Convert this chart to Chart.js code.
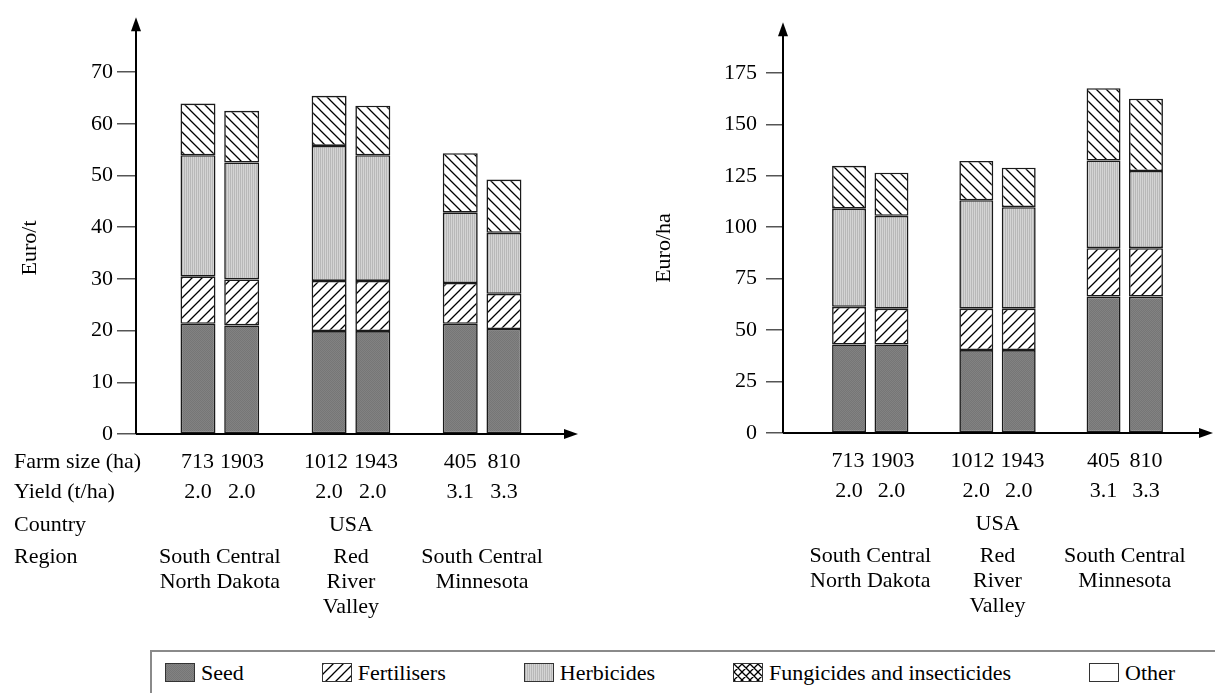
<!DOCTYPE html>
<html>
<head>
<meta charset="utf-8">
<script src="https://cdn.jsdelivr.net/npm/chart.js@4.4.1/dist/chart.umd.min.js"></script>
<style>
  body { margin: 0; background: #fff; width: 1215px; height: 693px; overflow: hidden; position: relative; font-family: "Liberation Serif", "Times New Roman", serif; }
  .wrap { position: absolute; top: 0; height: 648px; }
  #leftWrap { left: 0; width: 607px; }
  #rightWrap { left: 607px; width: 608px; }
  #legend { position: absolute; left: 150px; top: 650px; right: 0; bottom: 0; border-top: 2px solid #8a8a8a; border-left: 2px solid #8a8a8a; display: flex; align-items: center; padding-left: 13px; box-sizing: border-box; white-space: nowrap; }
  .item { display: flex; align-items: center; margin-right: 78px; font-size: 22px; }
  .item canvas { border: 1px solid #333; margin-right: 6px; display: block; }
</style>
</head>
<body>
<div class="wrap" id="leftWrap"><canvas id="perTonChart"></canvas></div>
<div class="wrap" id="rightWrap"><canvas id="perHaChart"></canvas></div>
<div id="legend"></div>

<script>
// Data
const farmSize = ["713", "1903", "1012", "1943", "405", "810"];
const yieldTha = ["2.0", "2.0", "2.0", "2.0", "3.1", "3.3"];
const regionOf = [0, 0, 1, 1, 2, 2];
const regions = [["South Central", "North Dakota"], ["Red", "River", "Valley"], ["South Central", "Minnesota"]];
const country = "USA";
const rowLabels = ["Farm size (ha)", "Yield (t/ha)", "Country", "Region"];
const costNames = ["Seed", "Fertilisers", "Herbicides", "Fungicides and insecticides", "Other"];

// Euro/t
const seedT = [21.3, 21.0, 19.9, 19.9, 21.3, 20.3];
const fertT = [9.2, 8.9, 9.7, 9.7, 7.9, 6.8];
const herbT = [23.4, 22.6, 26.1, 24.3, 13.6, 11.8];
const fungT = [10.0, 10.0, 9.7, 9.6, 11.5, 10.3];
const otherT = [0, 0, 0, 0, 0, 0];
const ticksT = [0, 10, 20, 30, 40, 50, 60, 70];

// Euro/ha
const seedHa = [43.0, 43.0, 40.3, 40.3, 66.3, 66.3];
const fertHa = [18.3, 17.4, 20.1, 20.1, 23.5, 23.5];
const herbHa = [47.7, 45.1, 52.7, 49.3, 42.6, 37.5];
const fungHa = [20.8, 21.0, 19.1, 19.2, 35.1, 35.1];
const otherHa = [0, 0, 0, 0, 0, 0];
const ticksHa = [0, 25, 50, 75, 100, 125, 150, 175];

// bar slots, leaving an empty slot between regions
const xPos = farmSize.map((f, i) => i + regionOf[i] + 1);

const FONT = "'Liberation Serif', 'Times New Roman', serif";
const TEXT_SIZE = 22;
Chart.defaults.font.family = FONT;
Chart.defaults.font.size = TEXT_SIZE;
Chart.defaults.color = "#000";

// Fill patterns
function makePattern(size, draw) {
  const c = document.createElement("canvas");
  c.width = size;
  c.height = size;
  const g = c.getContext("2d");
  draw(g, size);
  return g.createPattern(c, "repeat");
}

const seedFill = makePattern(2, (g) => {
  g.fillStyle = "#828282"; g.fillRect(0, 0, 2, 2);
  g.fillStyle = "#767676"; g.fillRect(0, 0, 1, 1); g.fillRect(1, 1, 1, 1);
});
const herbFill = makePattern(2, (g) => {
  g.fillStyle = "#d4d4d4"; g.fillRect(0, 0, 2, 2);
  g.fillStyle = "#b8b8b8"; g.fillRect(0, 0, 1, 2);
});
function hatch(forward, back, size) {
  return makePattern(size, (g, s) => {
    g.fillStyle = "#fff"; g.fillRect(0, 0, s, s);
    g.strokeStyle = "#000"; g.lineWidth = 1.3;
    g.beginPath();
    if (forward) {
      g.moveTo(-1, s + 1); g.lineTo(s + 1, -1);
      g.moveTo(-1, 1); g.lineTo(1, -1);
      g.moveTo(s - 1, s + 1); g.lineTo(s + 1, s - 1);
    }
    if (back) {
      g.moveTo(-1, -1); g.lineTo(s + 1, s + 1);
      g.moveTo(s - 1, -1); g.lineTo(s + 1, 1);
      g.moveTo(-1, s - 1); g.lineTo(1, s + 1);
    }
    g.stroke();
  });
}
const fertFill = hatch(true, false, 10);
const fungFill = hatch(false, true, 10);
const crossFill = hatch(true, true, 8);

const fills = [seedFill, fertFill, herbFill, fungFill, "#fff"];

function datasets(series) {
  return series.map((vals, k) => ({
    label: costNames[k],
    data: vals.map((v, i) => ({ x: xPos[i], y: v })),
    backgroundColor: fills[k],
    borderColor: "#1a1a1a",
    borderWidth: k === 4 ? 0 : 1.6,
    borderSkipped: false,
    barPercentage: 0.8,
    categoryPercentage: 1.0,
  }));
}

// one row of labels centred under the bars, nudged apart inside a region when they would touch
function drawBarRow(ctx, xs, labels, y) {
  const minGap = 6;
  regions.forEach((r, g) => {
    const idx = labels.map((l, i) => i).filter((i) => regionOf[i] === g);
    const items = idx.map((i) => ({ t: labels[i], c: xs.getPixelForValue(xPos[i]), w: ctx.measureText(labels[i]).width }));
    for (let k = 1; k < items.length; k++) {
      const a = items[k - 1], b = items[k];
      const gap = (b.c - b.w / 2) - (a.c + a.w / 2);
      if (gap < minGap) {
        const push = (minGap - gap) / 2;
        a.c -= push;
        b.c += push;
      }
    }
    items.forEach((it) => ctx.fillText(it.t, it.c, y));
  });
}

// axes with arrows + text table under the bars
const tablePlugin = {
  id: "tablePlugin",
  afterDatasetsDraw(chart, args, opts) {
    const ctx = chart.ctx;
    const a = chart.chartArea;
    const xs = chart.scales.x;
    ctx.save();
    ctx.strokeStyle = "#000";
    ctx.fillStyle = "#000";
    ctx.lineWidth = 2;
    ctx.beginPath();
    ctx.moveTo(a.left, a.bottom);
    ctx.lineTo(a.left, a.top + 8);
    ctx.moveTo(a.left, a.bottom);
    ctx.lineTo(a.right - 8, a.bottom);
    ctx.stroke();
    ctx.beginPath();
    ctx.moveTo(a.left, a.top);
    ctx.lineTo(a.left - 5, a.top + 14);
    ctx.lineTo(a.left + 5, a.top + 14);
    ctx.closePath();
    ctx.fill();
    ctx.beginPath();
    ctx.moveTo(a.right, a.bottom);
    ctx.lineTo(a.right - 14, a.bottom - 5);
    ctx.lineTo(a.right - 14, a.bottom + 5);
    ctx.closePath();
    ctx.fill();

    ctx.font = TEXT_SIZE + "px " + FONT;
    ctx.textBaseline = "middle";

    // y axis title
    ctx.save();
    ctx.translate(opts.titleX, opts.titleY);
    ctx.rotate(-Math.PI / 2);
    ctx.textAlign = "center";
    ctx.fillText(opts.title, 0, 0);
    ctx.restore();

    const rowY = [28, 58, 91, 123].map((d) => a.bottom + d);
    const lineStep = 25;
    if (opts.rowLabels) {
      ctx.textAlign = "left";
      rowLabels.forEach((t, r) => ctx.fillText(t, 14, rowY[r]));
    }
    ctx.textAlign = "center";
    drawBarRow(ctx, xs, farmSize, rowY[0]);
    drawBarRow(ctx, xs, yieldTha, rowY[1]);
    const first = xs.getPixelForValue(xPos[0]);
    const last = xs.getPixelForValue(xPos[xPos.length - 1]);
    ctx.fillText(country, (first + last) / 2, rowY[2]);
    regions.forEach((lines, g) => {
      const px = xPos.filter((p, i) => regionOf[i] === g).map((p) => xs.getPixelForValue(p));
      const cx = px.reduce((s, v) => s + v, 0) / px.length;
      lines.forEach((t, l) => ctx.fillText(t, cx, rowY[3] + l * lineStep));
    });
    ctx.restore();
  },
};

function makeChart(id, series, yTicks, cfg) {
  return new Chart(document.getElementById(id), {
    type: "bar",
    data: { datasets: datasets(series) },
    plugins: [tablePlugin],
    options: {
      responsive: true,
      maintainAspectRatio: false,
      animation: false,
      events: [],
      layout: { padding: { top: 12, right: cfg.padRight, left: 0, bottom: 0 } },
      plugins: {
        legend: { display: false },
        tooltip: { enabled: false },
        tablePlugin: { title: cfg.title, titleX: cfg.titleX, titleY: 248, rowLabels: cfg.rowLabels },
      },
      scales: {
        x: {
          type: "linear",
          stacked: true,
          offset: false,
          min: cfg.xMin,
          max: cfg.xMax,
          grid: { display: false, drawTicks: false, offset: false },
          border: { display: false },
          ticks: { display: false },
          afterBuildTicks: (axis) => { axis.ticks = xPos.map((v) => ({ value: v })); },
          afterFit: (s) => { s.height = 648 - cfg.baseY; },
        },
        y: {
          stacked: true,
          min: 0,
          max: cfg.yMax,
          border: { display: false },
          grid: { drawOnChartArea: false, tickLength: cfg.tickLen, color: "#555", lineWidth: 1.5 },
          afterBuildTicks: (axis) => { axis.ticks = yTicks.map((v) => ({ value: v })); },
          afterFit: (s) => { s.width = cfg.axisX; },
          ticks: { padding: cfg.tickPad, font: { size: 22 } },
        },
      },
    },
  });
}

document.addEventListener("DOMContentLoaded", function () {
  makeChart("perTonChart", [seedT, fertT, herbT, fungT, otherT], ticksT, {
    title: "Euro/t", titleX: 30, rowLabels: true,
    axisX: 136, baseY: 434, padRight: 29, yMax: 80.6,
    xMin: -0.418, xMax: 9.694, tickLen: 19, tickPad: 4,
  });
  makeChart("perHaChart", [seedHa, fertHa, herbHa, fungHa, otherHa], ticksHa, {
    title: "Euro/ha", titleX: 57, rowLabels: false,
    axisX: 176, baseY: 433, padRight: 2, yMax: 199.6,
    xMin: -0.557, xMax: 9.58, tickLen: 17, tickPad: 9,
  });

  // legend row
  const legendFills = [seedFill, fertFill, herbFill, crossFill, "#fff"];
  const legend = document.getElementById("legend");
  costNames.forEach((name, k) => {
    const item = document.createElement("div");
    item.className = "item";
    const sw = document.createElement("canvas");
    sw.width = 28;
    sw.height = 17;
    const g = sw.getContext("2d");
    g.fillStyle = legendFills[k];
    g.fillRect(0, 0, 28, 17);
    item.appendChild(sw);
    const span = document.createElement("span");
    span.textContent = name;
    item.appendChild(span);
    legend.appendChild(item);
  });
});
</script>
</body>
</html>
